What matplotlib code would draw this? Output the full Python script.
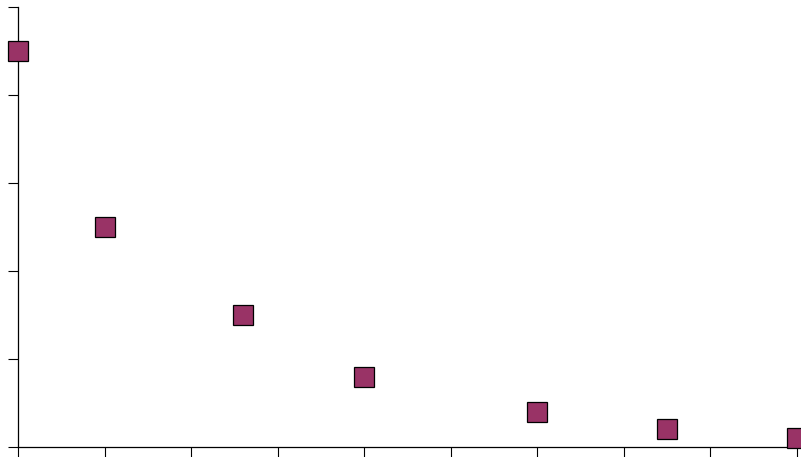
import matplotlib
matplotlib.use("Agg")
from matplotlib import pyplot as plt

X_VALUES = [0, 1, 2.6, 4, 6, 7.5, 9]
Y_VALUES = [4.5, 2.5, 1.5, 0.8, 0.4, 0.2, 0.1]
X_TICKS = list(range(10))
Y_TICKS = list(range(6))

fig = plt.figure(figsize=(8.01, 4.57), dpi=100)
ax = fig.add_axes([18 / 801, 10 / 457, 779 / 801, 440 / 457])

ax.plot(X_VALUES, Y_VALUES, linestyle="none", marker="s", markersize=14.2,
        markerfacecolor="#993366", markeredgecolor="black",
        markeredgewidth=0.9, clip_on=False, zorder=3)

ax.set_xlim(0, 9)
ax.set_ylim(0, 5)
ax.set_xticks(X_TICKS)
ax.set_yticks(Y_TICKS)
ax.set_xticklabels([])
ax.set_yticklabels([])
ax.tick_params(direction="out", length=7.5, width=0.8, color="black")

for side in ("top", "right"):
    ax.spines[side].set_visible(False)
for side in ("left", "bottom"):
    ax.spines[side].set_linewidth(0.9)

fig.savefig("out.png", dpi=100)
